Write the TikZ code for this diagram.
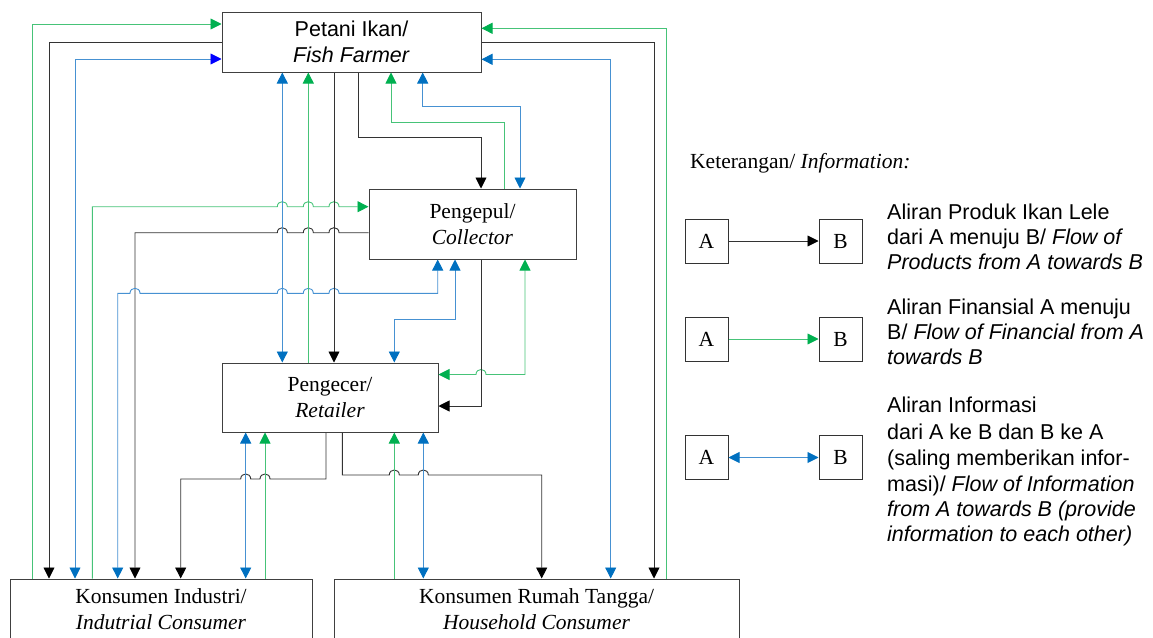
\documentclass[tikz,border=0pt]{standalone}
\usepackage{fontspec}
\setmainfont{Liberation Serif}
\newfontfamily\arialf{Liberation Sans}
\usetikzlibrary{arrows.meta}
\definecolor{grn}{RGB}{0,176,80}
\definecolor{grnl}{RGB}{70,195,120}
\definecolor{blu}{RGB}{0,112,192}
\definecolor{blul}{RGB}{70,145,210}
\definecolor{pblue}{RGB}{0,0,255}
\newcommand{\serf}{\fontsize{21.5}{25.7}\selectfont}
\newcommand{\sanf}{\arialf\fontsize{21.5}{25.7}\selectfont}
\begin{document}
\begin{tikzpicture}[x=1pt,y=-1pt,
  box/.style={draw=black!75, line width=1pt, inner sep=0pt, align=center, font=\serf},
  sbox/.style={box, font=\sanf},
  lbox/.style={draw=black!80, line width=1pt, minimum width=43pt, minimum height=44pt, inner sep=0pt, font=\serf},
  legt/.style={anchor=base west, inner sep=0pt, font=\sanf},
  prod/.style={draw=black!80, line width=0.9pt},
  fin/.style={draw=grnl, line width=0.9pt},
  inf/.style={draw=blul, line width=0.9pt},
  ptip/.tip={Triangle[length=11pt,width=11pt,color=black]},
  ftip/.tip={Triangle[length=11pt,width=11pt,color=grn]},
  itip/.tip={Triangle[length=11pt,width=11pt,color=blu]},
  qtip/.tip={Triangle[length=11pt,width=11pt,color=pblue]},
  jr/.style 2 args={insert path={-- ({#1-5},#2) .. controls ({#1-5},{#2-6.7}) and ({#1+5},{#2-6.7}) .. ({#1+5},#2)}},
  jl/.style 2 args={insert path={-- ({#1+5},#2) .. controls ({#1+5},{#2-6.7}) and ({#1-5},{#2-6.7}) .. ({#1-5},#2)}}
]
\useasboundingbox (0,0) rectangle (1153,637);
\clip (0,0) rectangle (1153,637);

% boxes
\node[sbox, minimum width=259pt, minimum height=60pt] (farmer) at (351.5,42) {Petani Ikan/\\\textit{Fish Farmer}};
\node[box, minimum width=207pt, minimum height=70pt] (pengepul) at (472.5,224) {Pengepul/\\\textit{Collector}};
\node[box, minimum width=216pt, minimum height=69pt] (pengecer) at (330,397.5) {Pengecer/\\\textit{Retailer}};
\node[box, minimum width=302pt, minimum height=60pt] (industri) at (161,609) {Konsumen Industri/\\\textit{Indutrial Consumer}};
\node[box, minimum width=405pt, minimum height=60pt] (rt) at (536.5,609) {Konsumen Rumah Tangga/\\\textit{Household Consumer}};

% Farmer <-> Industri
\draw[fin, -ftip] (industri.north -| 32,0) |- (farmer.west |- 0,24);
\draw[prod, -ptip] (farmer.west |- 0,42.3) -| (industri.north -| 49,0);
\draw[inf, qtip-itip] (farmer.west |- 0,59) -| (industri.north -| 75,0);

% Pengepul <-> Industri
\draw[fin, -ftip] (industri.north -| 92.3,0) -- (92.3,206.7) [jr={282.3}{206.7}] [jr={308.3}{206.7}] [jr={334}{206.7}] -- (pengepul.west |- 0,206.7);
\draw[prod, -ptip] (pengepul.west |- 0,232.7) [jl={334}{232.7}] [jl={308.3}{232.7}] [jl={282.3}{232.7}] -- (135,232.7) -- (industri.north -| 135,0);
\draw[inf, itip-itip] (industri.north -| 117.7,0) -- (117.7,293.3) [jr={135}{293.3}] [jr={282.3}{293.3}] [jr={308.3}{293.3}] [jr={334}{293.3}] -- (437.7,293.3) -- (pengepul.south -| 437.7,0);

% Farmer <-> Pengecer
\draw[inf, itip-itip] (farmer.south -| 282.3,0) -- (pengecer.north -| 282.3,0);
\draw[fin, -ftip] (pengecer.north -| 308.3,0) -- (farmer.south -| 308.3,0);
\draw[prod, -ptip] (farmer.south -| 334,0) -- (pengecer.north -| 334,0);

% Farmer <-> Pengepul
\draw[prod, -ptip] (farmer.south -| 358.7,0) |- (481,137.7) -- (pengepul.north -| 481,0);
\draw[fin, -ftip] (pengepul.north -| 504,0) |- (391,122.3) -- (farmer.south -| 391,0);
\draw[inf, itip-itip] (farmer.south -| 422.7,0) |- (520,106) -- (pengepul.north -| 520,0);

% Farmer <-> Rumah Tangga
\draw[fin, -ftip] (rt.north -| 666.5,0) |- (farmer.east |- 0,28.3);
\draw[prod, -ptip] (farmer.east |- 0,42.3) -| (rt.north -| 654,0);
\draw[inf, itip-itip] (farmer.east |- 0,59.3) -| (rt.north -| 610.7,0);

% Pengepul <-> Pengecer
\draw[inf, itip-itip] (pengepul.south -| 455,0) |- (394.3,319.3) -- (pengecer.north -| 394.3,0);
\draw[fin, ftip-ftip] (pengecer.east |- 0,374.5) [jr={481}{374.5}] -- (525,374.5) -- (pengepul.south -| 525,0);
\draw[prod, -ptip] (pengepul.south -| 481,0) |- (pengecer.east |- 0,406);

% Pengecer <-> Industri
\draw[prod, -ptip] (pengecer.south -| 326,0) -- (326,479) [jl={265}{479}] [jl={245.7}{479}] -- (180.7,479) -- (industri.north -| 180.7,0);
\draw[inf, itip-itip] (pengecer.south -| 245.7,0) -- (industri.north -| 245.7,0);
\draw[fin, -ftip] (industri.north -| 265,0) -- (pengecer.south -| 265,0);

% Pengecer <-> Rumah Tangga
\draw[prod, -ptip] (pengecer.south -| 342.3,0) -- (342.3,475) [jr={394.3}{475}] [jr={423.3}{475}] -- (541.7,475) -- (rt.north -| 541.7,0);
\draw[fin, -ftip] (rt.north -| 394.3,0) -- (pengecer.south -| 394.3,0);
\draw[inf, itip-itip] (pengecer.south -| 423.3,0) -- (rt.north -| 423.3,0);

% legend
\node[anchor=base west, inner sep=0pt, font=\serf] (ket) at (690,168.3) {Keterangan/ \textit{Information:}};
\node[lbox] (a1) at (706.5,241) {A};
\node[lbox] (b1) at (840.5,241) {B};
\node[lbox] (a2) at (706.5,339) {A};
\node[lbox] (b2) at (840.5,339) {B};
\node[lbox] (a3) at (706.5,457.5) {A};
\node[lbox] (b3) at (840.5,457.5) {B};
\draw[prod, -ptip] (a1) -- (b1);
\draw[fin, -ftip] (a2) -- (b2);
\draw[inf, itip-itip] (a3) -- (b3);

\node[legt] (l1a) at (887,219.4) {Aliran Produk Ikan Lele};
\node[legt] (l1b) at (887,244.4) {dari A menuju B/ \textit{Flow of}};
\node[legt] (l1c) at (887,269.4) {\textit{Products from A towards B}};
\node[legt] (l2a) at (887,314.4) {Aliran Finansial A menuju};
\node[legt] (l2b) at (887,339.4) {B/ \textit{Flow of Financial from A}};
\node[legt] (l2c) at (887,364.4) {\textit{towards B}};
\node[legt] (l3a) at (887,412.7) {Aliran Informasi};
\node[legt] (l3b) at (887,439.4) {dari A ke B dan B ke A};
\node[legt] (l3c) at (887,465) {(saling memberikan infor-};
\node[legt] (l3d) at (887,491) {masi)/ \textit{Flow of Information}};
\node[legt] (l3e) at (887,516) {\textit{from A towards B (provide}};
\node[legt] (l3f) at (887,541) {\textit{information to each other)}};
\end{tikzpicture}
\end{document}
